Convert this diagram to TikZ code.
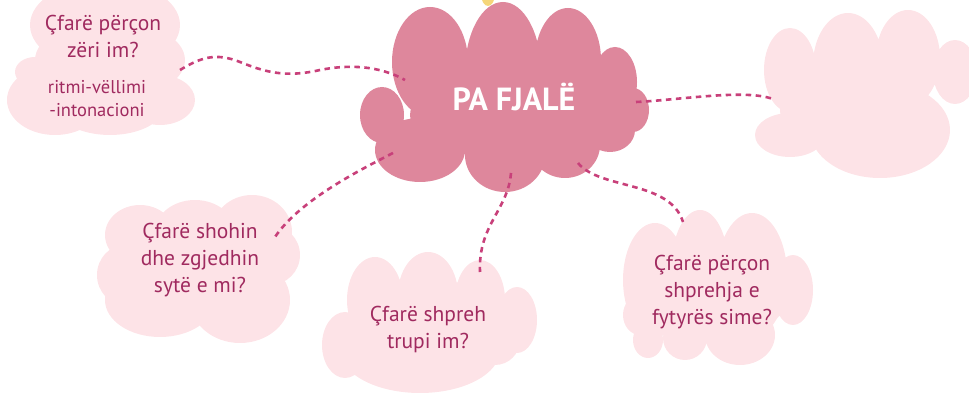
\documentclass[tikz,border=0pt]{standalone}
\usepackage{fontspec}
\setmainfont{PT Sans}
\definecolor{mainc}{HTML}{DE879C}
\definecolor{lightc}{HTML}{FDE3E7}
\definecolor{qcol}{HTML}{A02A5F}
\definecolor{dashc}{HTML}{C8407A}
\definecolor{yelc}{HTML}{F5D67A}
\begin{document}
\begin{tikzpicture}[x=1pt,y=-1pt,
  conn/.style={draw=dashc, line width=2.6pt, dash pattern=on 5.5pt off 4.5pt},
  qtext/.style={text=qcol, font=\fontsize{21.5}{27}\selectfont, align=center, inner sep=0pt},
  stext/.style={text=qcol, font=\fontsize{18.5}{23}\selectfont, align=center, inner sep=0pt}]
\useasboundingbox (0,0) rectangle (969,395);
% yellow bit
\fill[yelc] (488,-6) ellipse [x radius=7pt, y radius=12pt];
% top-left cloud
\fill[lightc] (105,25) ellipse [x radius=75pt, y radius=45pt]
  (110,60) ellipse [x radius=75pt, y radius=40pt]
  (55,100) ellipse [x radius=48pt, y radius=35pt]
  (110,105) ellipse [x radius=55pt, y radius=30pt]
  (160,100) ellipse [x radius=35pt, y radius=25pt]
  (35,72) ellipse [x radius=20pt, y radius=15pt];
% main cloud
\fill[mainc] (430,62) ellipse [x radius=38pt, y radius=55pt]
  (503,72) ellipse [x radius=38pt, y radius=70pt]
  (568,60) ellipse [x radius=33pt, y radius=52pt]
  (615,82) ellipse [x radius=22pt, y radius=35pt]
  (633,110) ellipse [x radius=16pt, y radius=22pt]
  (382,115) ellipse [x radius=22pt, y radius=28pt]
  (520,115) ellipse [x radius=110pt, y radius=45pt]
  (420,150) ellipse [x radius=45pt, y radius=32pt]
  (505,155) ellipse [x radius=40pt, y radius=37pt]
  (565,145) ellipse [x radius=35pt, y radius=33pt]
  (610,130) ellipse [x radius=25pt, y radius=22pt];
% top-right cloud
\fill[lightc] (790,70) ellipse [x radius=26pt, y radius=42pt]
  (848,65) ellipse [x radius=35pt, y radius=52pt]
  (908,58) ellipse [x radius=32pt, y radius=48pt]
  (955,72) ellipse [x radius=22pt, y radius=32pt]
  (790,135) ellipse [x radius=35pt, y radius=22pt]
  (880,130) ellipse [x radius=70pt, y radius=48pt]
  (850,110) ellipse [x radius=70pt, y radius=40pt];
% bottom-left cloud
\fill[lightc] (140,235) ellipse [x radius=35pt, y radius=30pt]
  (195,232) ellipse [x radius=40pt, y radius=32pt]
  (252,232) ellipse [x radius=40pt, y radius=37pt]
  (270,255) ellipse [x radius=30pt, y radius=30pt]
  (125,275) ellipse [x radius=28pt, y radius=30pt]
  (160,300) ellipse [x radius=55pt, y radius=37pt]
  (240,300) ellipse [x radius=50pt, y radius=43pt]
  (200,270) ellipse [x radius=80pt, y radius=45pt];
% bottom-middle cloud
\fill[lightc] (375,300) ellipse [x radius=28pt, y radius=43pt]
  (428,295) ellipse [x radius=30pt, y radius=43pt]
  (480,300) ellipse [x radius=25pt, y radius=40pt]
  (517,320) ellipse [x radius=20pt, y radius=33pt]
  (345,345) ellipse [x radius=23pt, y radius=33pt]
  (420,350) ellipse [x radius=80pt, y radius=43pt]
  (495,340) ellipse [x radius=25pt, y radius=25pt]
  (430,320) ellipse [x radius=80pt, y radius=40pt];
% bottom-right cloud
\fill[lightc] (655,280) ellipse [x radius=32pt, y radius=57pt]
  (700,265) ellipse [x radius=28pt, y radius=55pt]
  (752,275) ellipse [x radius=35pt, y radius=62pt]
  (793,290) ellipse [x radius=20pt, y radius=35pt]
  (648,340) ellipse [x radius=15pt, y radius=18pt]
  (685,338) ellipse [x radius=22pt, y radius=22pt]
  (740,335) ellipse [x radius=35pt, y radius=30pt]
  (640,315) ellipse [x radius=17pt, y radius=20pt]
  (715,300) ellipse [x radius=70pt, y radius=40pt];
% connector end points
\coordinate (tl) at (180,70);
\coordinate (mL) at (405,80);
\coordinate (mR) at (636,102);
\coordinate (tr) at (775,100);
\coordinate (mBL) at (393,153);
\coordinate (bl) at (275,237);
\coordinate (mB) at (511,173);
\coordinate (bm) at (480,272);
\coordinate (mBR) at (578,163);
\coordinate (br) at (683,222);
% connectors
\draw[conn] (tl) .. controls (200,58) and (215,52) .. (240,62)
  .. controls (265,72) and (285,78) .. (320,70)
  .. controls (350,64) and (380,66) .. (mL);
\draw[conn] (mR) .. controls (680,100) and (750,88) .. (tr);
\draw[conn] (mBL) .. controls (360,170) and (300,200) .. (bl);
\draw[conn] (mB) .. controls (508,210) and (478,225) .. (bm);
\draw[conn] (mBR) .. controls (600,190) and (670,180) .. (br);
% texts
\node[qtext] (q1) at (103,36) {Çfarë përçon\\zëri im?};
\node[stext] (r1) at (97,99) {ritmi-vëllimi\\-intonacioni};
\node[text=white, font=\fontsize{32}{34}\selectfont\bfseries, inner sep=0pt, anchor=base] (main) at (514,111) {PA FJALË};
\node[qtext] (q2) at (200,260) {Çfarë shohin\\dhe zgjedhin\\sytë e mi?};
\node[qtext] (q3) at (428,329) {Çfarë shpreh\\trupi im?};
\node[qtext] (q4) at (712,292) {Çfarë përçon\\shprehja e\\fytyrës sime?};
\end{tikzpicture}
\end{document}
